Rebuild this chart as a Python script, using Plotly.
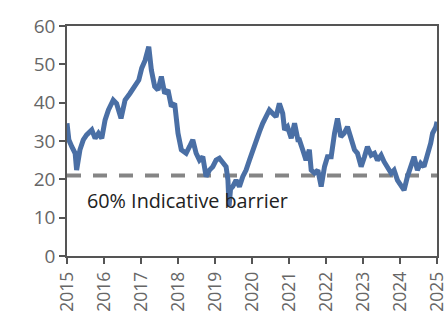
import plotly.graph_objects as go

years = [2015.00, 2015.05, 2015.13, 2015.22, 2015.26, 2015.35, 2015.44, 2015.53, 2015.67, 2015.76,
         2015.85, 2015.94, 2016.03, 2016.12, 2016.25, 2016.34, 2016.46, 2016.57, 2016.70, 2016.84,
         2016.94, 2017.02, 2017.11, 2017.21, 2017.28, 2017.37, 2017.46, 2017.55, 2017.64, 2017.73,
         2017.82, 2017.91, 2017.95, 2018.00, 2018.09, 2018.22, 2018.31, 2018.40, 2018.49, 2018.58,
         2018.67, 2018.76, 2018.85, 2018.94, 2019.03, 2019.12, 2019.21, 2019.30, 2019.35, 2019.38,
         2019.42, 2019.48, 2019.57, 2019.66, 2019.75, 2019.84, 2019.93, 2020.02, 2020.11, 2020.20,
         2020.29, 2020.38, 2020.47, 2020.56, 2020.65, 2020.74, 2020.83, 2020.88, 2020.96, 2021.06,
         2021.15, 2021.24, 2021.28, 2021.37, 2021.46, 2021.55, 2021.60, 2021.69, 2021.78, 2021.87,
         2021.96, 2022.04, 2022.14, 2022.23, 2022.31, 2022.40, 2022.49, 2022.58, 2022.68, 2022.77,
         2022.85, 2022.95, 2023.04, 2023.12, 2023.22, 2023.31, 2023.39, 2023.49, 2023.57, 2023.66,
         2023.76, 2023.84, 2023.93, 2024.02, 2024.11, 2024.20, 2024.29, 2024.38, 2024.47, 2024.56,
         2024.65, 2024.74, 2024.83, 2024.88, 2024.97, 2025.00]
values = [34.6, 30.3, 28.5, 26.8, 22.4, 27.7, 30.3, 31.6, 32.9, 30.7,
          32.0, 30.7, 35.5, 38.1, 40.7, 39.8, 35.9, 40.7, 42.4, 44.6,
          45.9, 49.0, 51.0, 54.6, 48.5, 44.2, 43.3, 46.8, 42.4, 43.3,
          39.0, 39.8, 35.5, 32.0, 27.7, 26.8, 28.5, 30.3, 26.8, 25.0,
          25.9, 20.7, 22.4, 23.3, 25.0, 25.5, 24.4, 23.3, 19.8, 13.0,
          17.5, 18.1, 19.8, 18.1, 20.7, 22.4, 25.0, 27.7, 30.3, 32.4,
          34.6, 36.3, 38.1, 37.2, 36.3, 39.8, 37.2, 32.9, 33.7, 30.7,
          34.6, 30.3, 30.3, 27.7, 25.0, 27.7, 22.4, 21.6, 22.4, 18.1,
          23.3, 25.9, 25.9, 32.0, 35.9, 31.1, 32.0, 33.7, 30.3, 27.7,
          26.8, 23.3, 25.9, 28.5, 26.3, 26.8, 25.0, 26.3, 24.6, 23.3,
          21.6, 22.4, 19.8, 18.5, 17.2, 20.7, 23.3, 25.9, 22.4, 24.2,
          23.3, 25.9, 29.4, 32.0, 33.7, 35.0]

barrier_level = 21
barrier_label = "60% Indicative barrier"
year_ticks = list(range(2015, 2026))
y_ticks = [0, 10, 20, 30, 40, 50, 60]

font_family = "'Open Sans', Lato, sans-serif"

fig = go.Figure()
fig.add_trace(go.Scatter(
    x=[year_ticks[0], year_ticks[-1]], y=[barrier_level, barrier_level],
    mode="lines", line=dict(color="#858585", width=4, dash="14px,12px"),
    hoverinfo="skip", showlegend=False))
fig.add_trace(go.Scatter(
    x=years, y=values, mode="lines",
    line=dict(color="#4a6fa5", width=5), showlegend=False))

fig.add_annotation(x=2015.48, y=14.6, text=barrier_label, showarrow=False,
                   xanchor="left", yanchor="middle",
                   font=dict(family=font_family, size=19.8, color="#222222"))

axis_common = dict(showline=True, linecolor="#555555", linewidth=1.5, mirror=True,
                   ticks="outside", ticklen=6, tickcolor="#555555", tickwidth=1.5,
                   showgrid=False, zeroline=False, automargin=False,
                   ticklabeloverflow="allow")

fig.update_xaxes(range=[2015, 2025], tickvals=year_ticks,
                 ticktext=[str(y) for y in year_ticks], tickangle=-90,
                 ticklabelstandoff=1,
                 tickfont=dict(family=font_family, size=17.5, color="#666666"),
                 **axis_common)
fig.update_yaxes(range=[0, 60], tickvals=y_ticks,
                 tickfont=dict(family=font_family, size=19, color="#666666"),
                 **axis_common)

fig.update_layout(width=447, height=311, margin=dict(l=67, r=10, t=26, b=55),
                  plot_bgcolor="white", paper_bgcolor="white")

fig.write_html("out.html", config={"displayModeBar": False},
               post_script="document.body.style.margin='0';document.body.style.overflow='hidden';")
